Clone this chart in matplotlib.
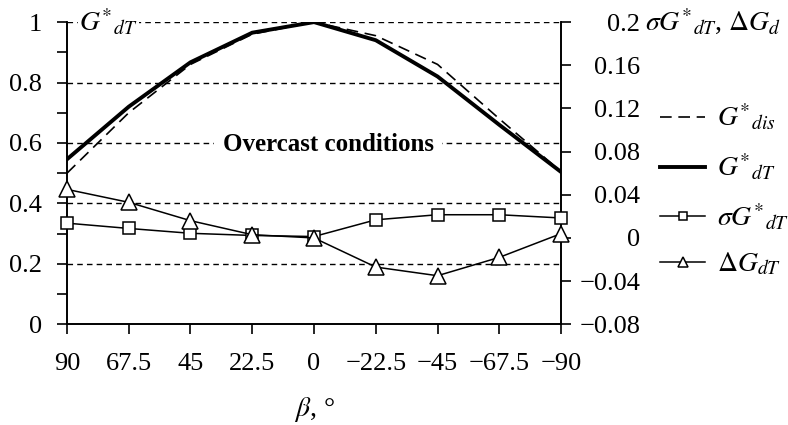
import matplotlib
matplotlib.use("Agg")
import matplotlib.pyplot as plt
from matplotlib.lines import Line2D

plt.rcParams['font.family'] = ['Liberation Serif', 'DejaVu Serif']
plt.rcParams['mathtext.fontset'] = 'stix'
plt.rcParams['axes.unicode_minus'] = True

# data
beta_labels = ['90', '67.5', '45', '22.5', '0', '\u221222.5', '\u221245', '\u221267.5', '\u221290']
g_dis = [0.50, 0.70, 0.86, 0.96, 1.00, 0.955, 0.86, 0.68, 0.505]
g_dT = [0.546, 0.72, 0.867, 0.965, 1.00, 0.94, 0.82, 0.66, 0.504]
sigma_g = [0.0137, 0.0088, 0.0043, 0.0023, 0.0013, 0.0168, 0.0215, 0.0215, 0.0185]
delta_g = [0.045, 0.033, 0.016, 0.003, 0.000, -0.027, -0.035, -0.018, 0.004]

x = list(range(len(beta_labels)))
fs = 19

fig = plt.figure(figsize=(7.88, 4.25), dpi=100)
ax = fig.add_axes([0.085, 0.237, 0.627, 0.711])
ax2 = ax.twinx()

# horizontal dashed grid on the left scale
for gy in [0.2, 0.4, 0.6, 0.8, 1.0]:
    ax.axhline(gy, color='black', lw=1.0, ls=(0, (4, 3)), zorder=1)

ax.plot(x, g_dis, color='black', lw=1.2, ls=(0, (7, 4)), zorder=3)
ax.plot(x, g_dT, color='black', lw=2.8, zorder=4, solid_joinstyle='miter')

ax2.plot(x, sigma_g, color='black', lw=1.1, marker='s', ms=9, mfc='white', mec='black',
         mew=1.1, clip_on=False, zorder=5)
ax2.plot(x, delta_g, color='black', lw=1.1, marker='^', ms=11, mfc='white', mec='black',
         mew=1.1, clip_on=False, zorder=6)

ax.set_xlim(0, len(x) - 1)
ax.set_ylim(0, 1)
ax2.set_ylim(-0.08, 0.2)

ax.set_xticks(x)
ax.set_xticklabels(beta_labels, fontsize=fs)
ax.set_yticks([0, 0.2, 0.4, 0.6, 0.8, 1.0])
ax.set_yticklabels(['0', '0.2', '0.4', '0.6', '0.8', '1'], fontsize=fs)
ax.set_yticks([0.1, 0.3, 0.5, 0.7, 0.9], minor=True)
ax.tick_params(axis='y', which='both', direction='out', length=7, width=1.2, pad=11)
ax.tick_params(axis='x', direction='out', length=7, width=1.2, pad=14)

r_ticks = [-0.08, -0.04, 0, 0.04, 0.08, 0.12, 0.16, 0.2]
ax2.set_yticks(r_ticks)
ax2.set_yticklabels(['\u22120.08', '\u22120.04', '0', '0.04', '0.08', '0.12', '0.16', '0.2'],
                    fontsize=fs)
ax2.tick_params(axis='y', direction='out', length=7, width=1.2, pad=50)
for lab in ax2.get_yticklabels():
    lab.set_horizontalalignment('right')

for a in (ax, ax2):
    a.spines['top'].set_visible(False)
    a.spines['left'].set_linewidth(1.2)
    a.spines['right'].set_linewidth(1.2)
    a.spines['bottom'].set_linewidth(1.2)
    a.patch.set_visible(False)

ax.text(4.23, 0.595, 'Overcast conditions', fontsize=18, fontweight='bold', ha='center',
        va='center', zorder=5, bbox=dict(facecolor='white', edgecolor='none', pad=6))
ax.text(0.2, 1.0, r'$G^{*}{}_{dT}$', fontsize=20, ha='left', va='center',
        bbox=dict(facecolor='white', edgecolor='none', pad=1), zorder=5)
fig.text(0.818, 0.948, r'$\sigma G^{*}{}_{dT}$, $\mathit{\Delta G_d}$', fontsize=20,
         ha='left', va='center')
ax.set_xlabel(r'$\beta$, °', fontsize=20, labelpad=14)

handles = [
    Line2D([], [], color='black', lw=1.2, ls=(0, (7, 4))),
    Line2D([], [], color='black', lw=2.8),
    Line2D([], [], color='black', lw=1.1, marker='s', ms=6, mfc='white', mew=1.1),
    Line2D([], [], color='black', lw=1.1, marker='^', ms=7, mfc='white', mew=1.1),
]
labels = [r'$G^{*}{}_{dis}$', r'$G^{*}{}_{dT}$', r'$\sigma G^{*}{}_{dT}$', r'$\mathit{\Delta G_{dT}}$']
fig.legend(handles, labels, loc='center left', bbox_to_anchor=(0.838, 0.553), frameon=False,
           fontsize=20, handlelength=1.6, labelspacing=0.69, handletextpad=0.45,
           borderpad=0, borderaxespad=0)

fig.savefig('out.png', dpi=100)
